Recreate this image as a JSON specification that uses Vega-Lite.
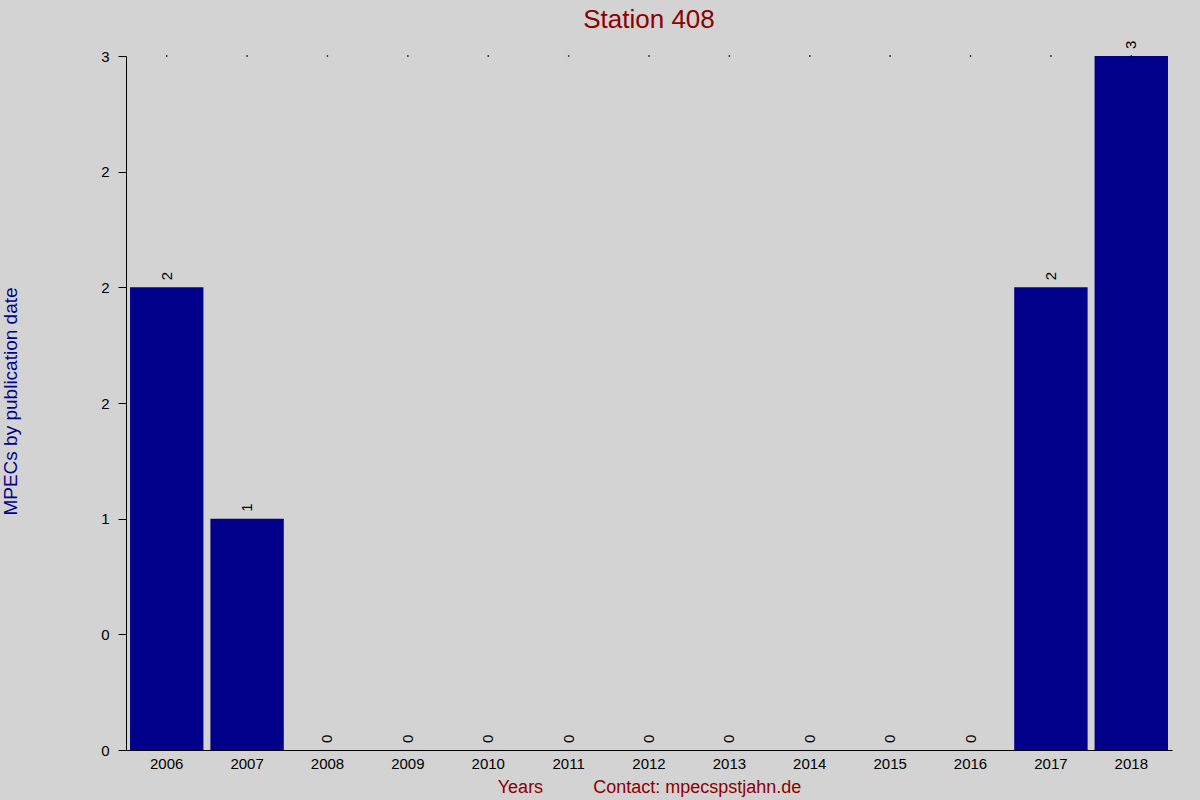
{
  "$schema": "https://vega.github.io/schema/vega-lite/v6.json",
  "width": 1046,
  "height": 694,
  "autosize": {"type": "none"},
  "padding": {"left": 126, "top": 56, "right": 28, "bottom": 50},
  "background": "#D3D3D3",
  "config": {
    "view": {"stroke": null},
    "font": "Liberation Sans"
  },
  "title": {
    "text": "Station 408",
    "color": "#8B0000",
    "fontSize": 26,
    "fontWeight": "normal",
    "font": "Liberation Sans",
    "anchor": "middle",
    "baseline": "alphabetic",
    "offset": -13
  },
  "data": {
    "values": [
      {"Year": "2006", "MPECs": 2},
      {"Year": "2007", "MPECs": 1},
      {"Year": "2008", "MPECs": 0},
      {"Year": "2009", "MPECs": 0},
      {"Year": "2010", "MPECs": 0},
      {"Year": "2011", "MPECs": 0},
      {"Year": "2012", "MPECs": 0},
      {"Year": "2013", "MPECs": 0},
      {"Year": "2014", "MPECs": 0},
      {"Year": "2015", "MPECs": 0},
      {"Year": "2016", "MPECs": 0},
      {"Year": "2017", "MPECs": 2},
      {"Year": "2018", "MPECs": 3}
    ]
  },
  "encoding": {
    "x": {
      "field": "Year",
      "type": "ordinal",
      "scale": {"paddingInner": 0.087, "paddingOuter": 0.05},
      "axis": {
        "title": "Years\u00a0\u00a0\u00a0\u00a0\u00a0\u00a0\u00a0\u00a0\u00a0\u00a0Contact: mpecspstjahn.de",
        "titleColor": "#8B0000",
        "titleFontSize": 18,
        "titleFontWeight": "normal",
        "titleY": 42,
        "titleBaseline": "alphabetic",
        "labelAngle": 0,
        "labelFontSize": 15,
        "labelColor": "black",
        "labelPadding": 6,
        "ticks": false,
        "domainColor": "black",
        "grid": false
      }
    }
  },
  "layer": [
    {
      "mark": {"type": "bar", "color": "#00008B"},
      "encoding": {
        "y": {
          "field": "MPECs",
          "type": "quantitative",
          "scale": {"domain": [0, 3], "nice": false},
          "axis": {
            "title": "MPECs by publication date",
            "titleColor": "#00008B",
            "titleFontSize": 19,
            "titleFontWeight": "normal",
            "titleAngle": 270,
            "titleAlign": "center",
            "titleBaseline": "middle",
            "titleX": -116,
            "titleY": 345,
            "values": [0, 0.5, 1, 1.5, 2, 2.5, 3],
            "labelExpr": "datum.value == 0.5 ? '0' : datum.value == 1.5 ? '2' : datum.value == 2.5 ? '2' : format(datum.value, 'd')",
            "labelFontSize": 15,
            "labelColor": "black",
            "labelPadding": 9,
            "tickSize": 8,
            "tickColor": "black",
            "domainColor": "black",
            "grid": false
          }
        }
      }
    },
    {
      "mark": {
        "type": "text",
        "angle": 270,
        "align": "left",
        "baseline": "middle",
        "dx": 7,
        "fontSize": 15,
        "color": "black"
      },
      "encoding": {
        "y": {"field": "MPECs", "type": "quantitative"},
        "text": {"field": "MPECs", "type": "quantitative"}
      }
    },
    {
      "mark": {"type": "square", "size": 2, "color": "black", "opacity": 1},
      "encoding": {
        "y": {"datum": 3, "type": "quantitative"}
      }
    }
  ]
}
